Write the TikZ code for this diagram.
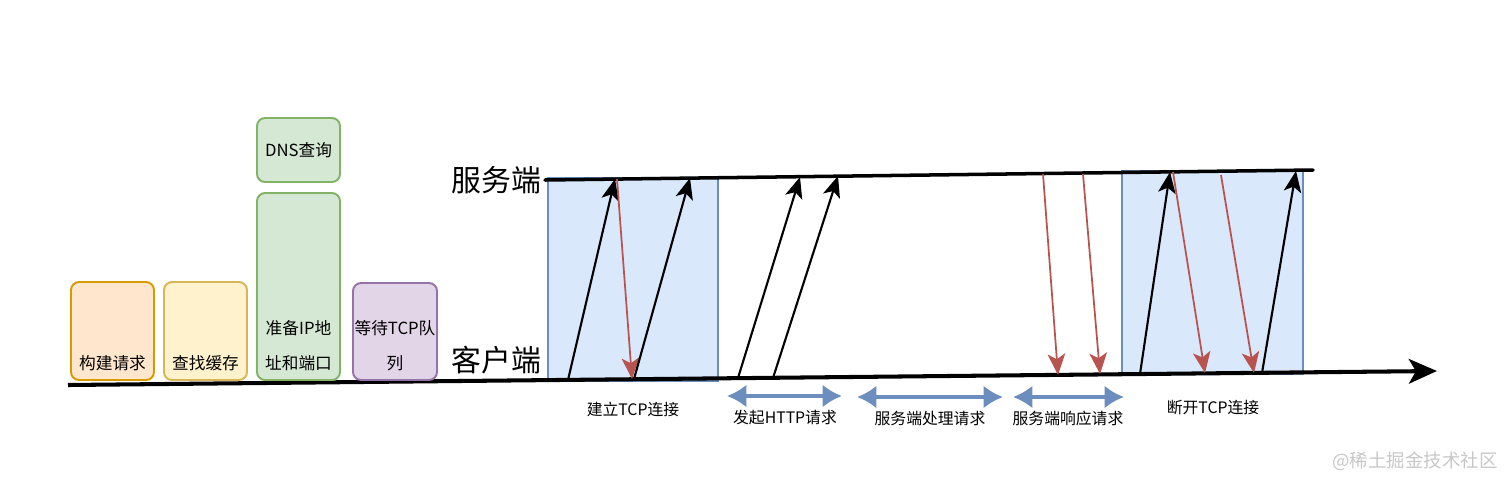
\documentclass[tikz,border=0pt]{standalone}
\usepackage{fontspec}
\setmainfont{Noto Sans CJK SC}
\usetikzlibrary{arrows.meta}
\definecolor{orangefill}{HTML}{FFE6CC}
\definecolor{orangeline}{HTML}{D79B00}
\definecolor{yellowfill}{HTML}{FFF2CC}
\definecolor{yellowline}{HTML}{D6B656}
\definecolor{greenfill}{HTML}{D5E8D4}
\definecolor{greenline}{HTML}{82B366}
\definecolor{purplefill}{HTML}{E1D5E7}
\definecolor{purpleline}{HTML}{9673A6}
\definecolor{bluefill}{HTML}{DAE8FC}
\definecolor{blueline}{HTML}{6C8EBF}
\definecolor{redline}{HTML}{B85450}

\begin{document}
\begin{tikzpicture}[x=0.02cm,y=-0.02cm,
  stage/.style={line width=1.1pt,rounded corners=0.16cm,minimum width=1.66cm,inner sep=0pt},
  phase/.style={draw=blueline,fill=bluefill,line width=0.8pt,minimum height=4.06cm,inner sep=0pt},
  msg/.style={-{Stealth[length=12pt,width=10pt,inset=3pt]},line width=1.2pt},
  reply/.style={msg,draw=redline,fill=redline,line width=1pt},
  span/.style={{Latex[length=11pt,width=13pt]}-{Latex[length=11pt,width=13pt]},draw=blueline,line width=2pt},
  lbl/.style={font=\fontsize{9.5}{20}\selectfont,inner sep=1pt},
  side/.style={font=\fontsize{17}{20}\selectfont,inner sep=2pt,anchor=east},
  note/.style={font=\fontsize{9}{11}\selectfont,inner sep=1pt}]
  \useasboundingbox (0,0) rectangle (1512,488);

  \node[phase,minimum width=3.4cm] (open) at (633,279.5) {};
  \node[phase,minimum width=3.62cm] (close) at (1212.5,272.5) {};

  \coordinate (srvL) at (545,180);
  \coordinate (srvR) at (1313,170);
  \coordinate (cliL) at (68,385);
  \coordinate (cliR) at (1437,371);
  \draw[line width=2pt,line cap=round] (srvL) -- (srvR);
  \draw[line width=2.3pt,-{Stealth[length=16pt,width=14pt,inset=4pt]}] (cliL) -- (cliR);
  \node[side] (server) at (srvL) {服务端};
  \node[side] (client) at (545,360) {客户端};

  \node[stage,draw=orangeline,fill=orangefill,minimum height=1.96cm] (build) at (112.5,331) {};
  \node[stage,draw=yellowline,fill=yellowfill,minimum height=1.96cm] (cache) at (205.5,331) {};
  \node[stage,draw=greenline,fill=greenfill,minimum height=1.28cm] (dns) at (298.5,150) {};
  \node[stage,draw=greenline,fill=greenfill,minimum height=3.74cm] (addr) at (298.5,286.5) {};
  \node[stage,draw=purpleline,fill=purplefill,minimum height=1.94cm,minimum width=1.68cm] (queue) at (395,331.5) {};
  \node[lbl] (buildtxt) at ([yshift=0.36cm]build.south) {构建请求};
  \node[lbl] (cachetxt) at ([yshift=0.36cm]cache.south) {查找缓存};
  \node[lbl] (dnstxt) at (dns) {DNS查询};
  \node[lbl,align=center] (addrtxt) at ([yshift=0.71cm]addr.south) {准备IP地\\址和端口};
  \node[lbl,align=center] (queuetxt) at ([yshift=0.71cm]queue.south) {等待TCP队\\列};

  \foreach \n/\x/\y in {c1/568/380,s1/615/179,s2/617/179,c2/632/379,c3/634/379,s3/690/178,
      c4/738/378,s4/800/177,c5/773/378,s5/838/176,s6/1043/174,c6/1058/375,s7/1083/174,c7/1100/374,
      c8/1140/374,s8/1170/172,s9/1173/172,c9/1205/373,s10/1221/175,c10/1254/373,c11/1262/373,s11/1296/171}
    \coordinate (\n) at (\x,\y);
  \draw[msg] (c1) -- (s1);
  \draw[reply] (s2) -- (c2);
  \draw[msg] (c3) -- (s3);
  \draw[msg] (c4) -- (s4);
  \draw[msg] (c5) -- (s5);
  \draw[reply] (s6) -- (c6);
  \draw[reply] (s7) -- (c7);
  \draw[msg] (c8) -- (s8);
  \draw[reply] (s9) -- (c9);
  \draw[reply] (s10) -- (c10);
  \draw[msg] (c11) -- (s11);

  \coordinate (sendL) at (727,396);
  \coordinate (sendR) at (842,396);
  \coordinate (workL) at (857,397);
  \coordinate (workR) at (1003,397);
  \coordinate (backL) at (1013,397);
  \coordinate (backR) at (1124,397);
  \draw[span] (sendL) -- (sendR);
  \draw[span] (workL) -- (workR);
  \draw[span] (backL) -- (backR);

  \node[note] (opentxt) at (633,409) {建立TCP连接};
  \node[note] (sendtxt) at (785,418) {发起HTTP请求};
  \node[note] (worktxt) at (930,418) {服务端处理请求};
  \node[note] (backtxt) at (1068,418) {服务端响应请求};
  \node[note] (closetxt) at (1213,408) {断开TCP连接};
  \node[font=\fontsize{10.5}{12}\selectfont,text=black!22] (mark) at (1415,461) {@稀土掘金技术社区};
\end{tikzpicture}
\end{document}
